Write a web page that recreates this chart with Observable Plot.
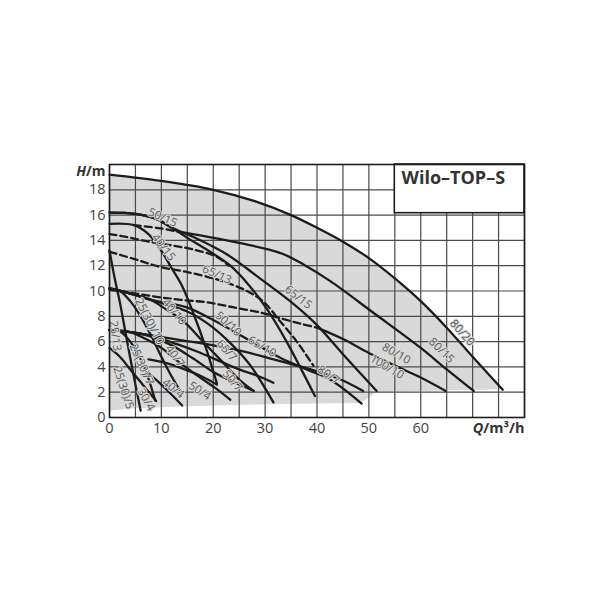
<!DOCTYPE html>
<html><head><meta charset="utf-8">
<script src="https://cdn.jsdelivr.net/npm/d3@7"></script>
<script src="https://cdn.jsdelivr.net/npm/@observablehq/plot@0.6"></script>
<style>body{margin:0;background:#fff}</style>
</head><body><div id="chart"></div>
<script>
const qTicks = [0,10,20,30,40,50,60];
const hTicks = [0,2,4,6,8,10,12,14,16,18];
const gridQ = [0,5,10,15,20,25,30,35,40,45,50,55,60,65,70,75,80];
const gridH = [0,2,4,6,8,10,12,14,16,18,20];

// solid pump curves [Q, H]
const c80_20 = [[0,19.2],[10,18.7],[20,18.0],[28,17.1],[35,16.0],[40,15.0],[45,13.9],[50,12.6],[55,11.0],[60,9.2],[65,7.1],[70,4.8],[75.8,2.2]];
const c80_15 = [[13.6,14.65],[17.5,14.4],[25,13.8],[33,13.0],[37.4,12.1],[42.5,10.8],[50.8,8.3],[60,5.5],[65,3.8],[70.2,2.1]];
const c65_15 = [[0,16.2],[5,16.1],[9,15.7],[12,15.0],[16,14.3],[22.6,12.9],[29,11.0],[35.4,9.0],[40,7.3],[45,5.0],[51.5,2.1]];
const c50_15 = [[0,16.2],[5,16.1],[9,15.7],[12,15.0],[15,14.2],[19,13.2],[23.3,12.0],[27,10.4],[30.3,8.6],[34,6.1],[39.6,1.7]];
const c40_15 = [[0,15.3],[4.7,15.2],[7.5,14.5],[9.8,13.3],[12,11.8],[14,10.4],[16.2,8.2],[18.5,5.6],[20.7,2.7]];
const c80_10 = [[40,7.1],[45,6.2],[50,5.1],[55,4.1],[59.8,3.2],[64.8,2.1]];
const c65_10 = [[0,10.2],[4,9.8],[8,9.3],[14.9,8.7],[20,7.7],[26.5,6.2],[33,4.7],[38,3.8],[42.5,3.0],[48.6,1.1]];
const c50_10 = [[0,10.2],[4,9.8],[8,9.3],[14.9,8.4],[19,7.4],[23,6.0],[27,4.2],[31.6,1.2]];
const c40_10 = [[0,10.2],[4,9.8],[8,9.3],[10,8.8],[14.3,7.6],[18,6.0],[22,4.3],[25,3.0],[27.8,2.1]];
const c25_10 = [[0,10.2],[2,10.0],[4,9.2],[6,8.0],[8,6.5],[10,4.8],[11.9,3.3],[13.5,2.2]];
const c25_13 = [[0,13.2],[1,11.0],[2,9.1],[3,6.9],[4,4.7],[5,2.6],[6,0.55]];
const c80_7 = [[0,6.9],[4,6.75],[8,6.5],[14,6.1],[20,5.7],[26,5.2],[31.6,4.6],[38,3.9],[44,3.1],[48.9,2.1]];
const c65_7 = [[0,6.9],[4,6.75],[8,6.45],[13,5.8],[17,5.2],[21,4.5],[25,3.8],[28.5,3.3],[31.6,2.75]];
const c50_7 = [[0,6.9],[4,6.75],[8,6.4],[12,5.7],[16,4.7],[20,3.6],[24,2.8],[27.8,2.1]];
const c40_7 = [[0,6.9],[4,6.75],[7,6.2],[10,5.5],[13,4.5],[17,3.3],[20.5,2.3],[23.3,1.4]];
const c25_7 = [[0,6.9],[2,6.8],[4,6.0],[6,4.6],[7.5,3.1],[8.8,1.35]];
const c25_5 = [[0,5.5],[2,4.8],[4,3.8],[6,2.8],[8,1.8],[9,1.3]];
const c50_4 = [[7.5,4.6],[11,4.3],[14.5,3.8],[18,3.2],[20.7,2.6]];
const c40_4 = [[7.5,3.5],[10,2.6],[12,1.8],[14,0.95]];
// dashed curves
const d15a = [[0,14.5],[3,14.3],[6.3,14.0],[12,13.6],[16,13.3],[20.7,12.7],[23,12.0]];
const d15b = [[4.7,15.2],[9.8,14.95],[13.6,14.65]];
const d65_13 = [[0,13.1],[5,12.5],[9.8,11.9],[15,11.5],[20,11.0],[23,10.6],[26.5,10.0],[29.7,9.15],[32.9,7.6],[36.1,6.0],[39.3,4.1]];
const d10 = [[0,10.1],[5,9.8],[9.8,9.5],[13.7,9.3],[18.8,9.1],[24,8.7],[29.6,8.25],[32.9,7.85],[37,7.4],[40,7.1]];
// lower edge of the grey field
const fieldBottom = [[0,0.5],[5,0.7],[15,0.85],[30,1.0],[48.6,1.1],[51.5,2.0],[64.8,2.1],[75.8,2.2]];

const solids = [c80_20,c80_15,c65_15,c50_15,c40_15,c80_10,c65_10,c50_10,c40_10,c25_10,c25_13,c80_7,c65_7,c50_7,c40_7,c25_7,c25_5,c50_4,c40_4];
const dashed = [d15a,d15b,d65_13,d10];

const labelText = ["50/15","40/15","65/13","65/15","40/10","50/10","25(30)/10","25/13","40/7","65/7","65/10","25(30)/7","50/7","40/4","50/4","25(30)/5","30/4","80/7","80/10","100/10","80/15","80/20"];
const labelQ =    [10.25, 10.4, 20.7, 36.4, 12.5, 22.9, 7.7, 1.1, 12.6, 22.6, 29.4, 6.2, 23.7, 12.3, 17.4, 2.7, 7.05, 42.2, 55.3, 53.5, 64, 68];
const labelH =    [15.8, 13.45, 11.3, 9.5, 8.36, 7.4, 7.6, 6.45, 4.85, 5.3, 5.6, 4.2, 2.9, 2.3, 2.1, 2.35, 1.43, 3.35, 5.05, 4.0, 5.3, 6.7];
const labelRot =  [24, 52, 25, 38, 50, 42, 63, 82, 55, 48, 30, 66, 50, 38, 33, 72, 60, 35, 30, 30, 45, 48];

const toRows = (arr, id) => arr.map(([q,h]) => ({q, h, id}));
const solidRows = solids.flatMap((c,i) => toRows(c, i));
const dashedRows = dashed.flatMap((c,i) => toRows(c, i));
const labels = labelText.map((t,i) => ({t, q: labelQ[i], h: labelH[i], r: labelRot[i]}));

const ink = "#1c1c1c";
const plot = Plot.plot({
  width: 600, height: 600,
  marginLeft: 109, marginRight: 76, marginTop: 164, marginBottom: 183,
  x: {domain: [0, 80]},
  y: {domain: [0, 20]},
  style: {fontFamily: "Open Sans", background: "white"},
  marks: [
    Plot.areaY(toRows(c80_20,0), {x: "q", y: "h", fill: "#d9d9d9", curve: "catmull-rom"}),
    Plot.areaY(toRows(fieldBottom,0), {x: "q", y: "h", fill: "white"}),
    Plot.ruleX(gridQ, {stroke: "#4a4a4a", strokeWidth: 1.2}),
    Plot.ruleY(gridH, {stroke: "#4a4a4a", strokeWidth: 1.2}),
    Plot.rect([{x1: 55, x2: 80, y1: 16.15, y2: 20}], {x1: "x1", x2: "x2", y1: "y1", y2: "y2", fill: "white", stroke: ink, strokeWidth: 1.6}),
    Plot.text(["Wilo–TOP–S"], {x: 56.3, y: 18.9, text: d => d, textAnchor: "start", fontSize: 18, fontWeight: "bold", fill: "#333"}),
    Plot.line(dashedRows, {x: "q", y: "h", z: "id", stroke: ink, strokeWidth: 2.3, strokeDasharray: "7,4", curve: "catmull-rom"}),
    Plot.line(solidRows, {x: "q", y: "h", z: "id", stroke: ink, strokeWidth: 2.3, curve: "catmull-rom"}),
    Plot.text(labels, {x: "q", y: "h", text: "t", rotate: "r", fontSize: 11.5, fill: "#5a5a5a", stroke: "#d9d9d9", strokeWidth: 2}),
    Plot.axisX(qTicks, {tickSize: 0, tickPadding: 5, fontSize: 14.5, fill: "#444", label: null}),
    Plot.axisY(hTicks, {tickSize: 0, tickPadding: 4, fontSize: 14.5, fill: "#444", label: null}),
    Plot.text(["H/m"], {x: 0, y: 20, text: d => d, dx: -4, dy: 7, textAnchor: "end", fontSize: 14, fontWeight: "bold", fill: "#333"}),
    Plot.text(["Q/m³/h"], {x: 80, y: 0, text: d => d, dy: 11, textAnchor: "end", fontSize: 14.5, fontWeight: "bold", fill: "#333"}),
    Plot.frame({stroke: ink, strokeWidth: 1.6})
  ]
});
document.getElementById("chart").appendChild(plot);
// italic variable letters
d3.select(plot).selectAll("text").each(function(){
  const el = d3.select(this);
  const t = el.text();
  if (t === "H/m" || t === "Q/m³/h") {
    const [v, rest] = [t[0], t.slice(1)];
    el.text(null);
    el.append("tspan").attr("font-style", "italic").text(v);
    el.append("tspan").text(rest);
  }
});
</script>
</body></html>
